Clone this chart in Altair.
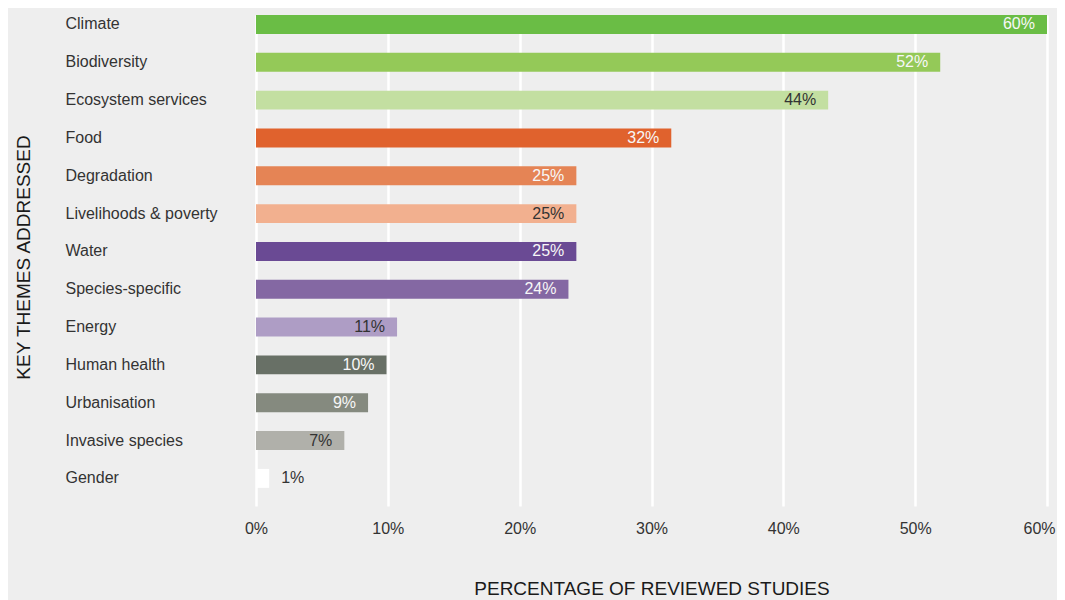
import altair as alt
import pandas as pd

themes = ["Climate", "Biodiversity", "Ecosystem services", "Food", "Degradation",
          "Livelihoods & poverty", "Water", "Species-specific", "Energy",
          "Human health", "Urbanisation", "Invasive species", "Gender"]
values = [60.0, 51.9, 43.4, 31.5, 24.3, 24.3, 24.3, 23.7, 10.7, 9.9, 8.5, 6.7, 1.0]
labels = ["60%", "52%", "44%", "32%", "25%", "25%", "25%", "24%", "11%", "10%", "9%", "7%", "1%"]
bar_colors = ["#6abd45", "#94c958", "#c3dfa1", "#e0622d", "#e58455", "#f2b08f",
              "#6a4a94", "#8468a3", "#ae9dc5", "#687066", "#858a7f", "#b0b0aa", "#ffffff"]
label_colors = ["#f7f7f7", "#f7f7f7", "#333333", "#f7f7f7", "#f7f7f7", "#333333",
                "#f7f7f7", "#f7f7f7", "#333333", "#f7f7f7", "#f7f7f7", "#333333", "#333333"]
inside = [True] * 12 + [False]
ticks = [0, 10, 20, 30, 40, 50, 60]

df = pd.DataFrame({"theme": themes, "value": values, "label": labels,
                   "color": bar_colors, "tcolor": label_colors, "inside": inside})

FONT = "Liberation Sans"

x_enc = alt.X("value:Q",
              scale=alt.Scale(domain=[0, 60], nice=False, zero=True),
              axis=alt.Axis(values=ticks, labelExpr="datum.value + '%'",
                            title="PERCENTAGE OF REVIEWED STUDIES",
                            grid=True, gridColor="#ffffff", gridWidth=2.5, gridOpacity=1,
                            ticks=False, domain=False, labelPadding=14,
                            labelFlush=False,
                            labelOffset={"condition": {"test": "datum.value == 60", "value": -8},
                                         "value": 0},
                            labelOverlap=False,
                            labelFontSize=16, labelColor="#333333", labelFont=FONT,
                            titleFontSize=19, titleFont=FONT, titleFontWeight="normal",
                            titleColor="#1a1a1a", titlePadding=43))
y_enc = alt.Y("theme:N", sort=themes,
              scale=alt.Scale(paddingInner=0.5, paddingOuter=0.24, align=0),
              axis=alt.Axis(title="KEY THEMES ADDRESSED", grid=False, ticks=False,
                            domain=False, labelAlign="left", labelPadding=191,
                            labelFontSize=16, labelColor="#333333", labelFont=FONT,
                            labelBaseline="middle",
                            titleFontSize=19, titleFont=FONT, titleFontWeight="normal",
                            titleColor="#1a1a1a", titleX=-223, titleY=242,
                            titleAlign="center", titleBaseline="bottom", titleAngle=270))

bars = alt.Chart(df).mark_bar().encode(
    x=x_enc, y=y_enc,
    color=alt.Color("color:N", scale=None, legend=None),
)

text_in = alt.Chart(df).transform_filter("datum.inside").mark_text(
    align="right", baseline="middle", dx=-12, fontSize=16, font=FONT
).encode(
    x=alt.X("value:Q"), y=alt.Y("theme:N", sort=themes),
    text="label:N",
    color=alt.Color("tcolor:N", scale=None, legend=None),
)

text_out = alt.Chart(df).transform_filter("!datum.inside").mark_text(
    align="left", baseline="middle", dx=12, fontSize=16, font=FONT
).encode(
    x=alt.X("value:Q"), y=alt.Y("theme:N", sort=themes),
    text="label:N",
    color=alt.Color("tcolor:N", scale=None, legend=None),
)

chart = alt.layer(bars, text_in, text_out).properties(
    width=791, height=491,
    background="#eeeeee",
    autosize=alt.AutoSizeParams(type="none"),
    padding={"left": 248, "top": 7, "right": 10, "bottom": 99},
).configure_view(stroke=None, fill="#eeeeee")

chart.save("out.html", embed_options={"renderer": "svg", "actions": False})
